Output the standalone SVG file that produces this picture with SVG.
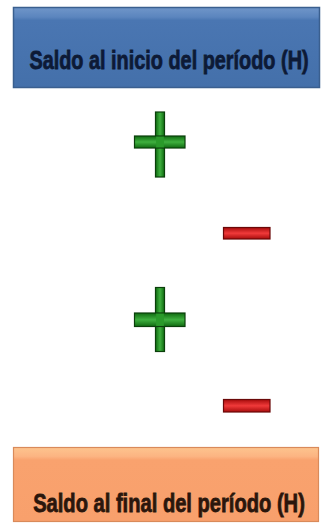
<svg xmlns="http://www.w3.org/2000/svg" width="323" height="523" viewBox="0 0 323 523">
<defs>
<linearGradient id="gBlue" x1="0" y1="0" x2="0" y2="1">
<stop offset="0" stop-color="#7096c9"/>
<stop offset="0.12" stop-color="#5b85be"/>
<stop offset="0.16" stop-color="#4a76b2"/>
<stop offset="1" stop-color="#4470aa"/>
</linearGradient>
<linearGradient id="gOrange" x1="0" y1="0" x2="0" y2="1">
<stop offset="0" stop-color="#fdc48e"/>
<stop offset="0.12" stop-color="#fcb482"/>
<stop offset="0.17" stop-color="#f9a26e"/>
<stop offset="1" stop-color="#f8a06c"/>
</linearGradient>
<linearGradient id="gGreenH" x1="0" y1="0" x2="0" y2="1">
<stop offset="0" stop-color="#0f6a10"/>
<stop offset="0.5" stop-color="#3fb03f"/>
<stop offset="1" stop-color="#0f6a10"/>
</linearGradient>
<linearGradient id="gGreenV" x1="0" y1="0" x2="1" y2="0">
<stop offset="0" stop-color="#0f6a10"/>
<stop offset="0.5" stop-color="#3fb03f"/>
<stop offset="1" stop-color="#0f6a10"/>
</linearGradient>
<linearGradient id="gRed" x1="0" y1="0" x2="0" y2="1">
<stop offset="0" stop-color="#a80c0c"/>
<stop offset="0.5" stop-color="#f03a3a"/>
<stop offset="1" stop-color="#a80c0c"/>
</linearGradient>
</defs>
<style>
.lbl{font-family:"Liberation Sans",Arial,sans-serif;font-weight:bold;font-size:26.5px;text-anchor:middle;stroke-width:0.8}
.plus{stroke:#0a3f0a;stroke-width:1.2}
.minus{stroke:#6a0808;stroke-width:1.2}
</style>
<g id="node-inicio">
<rect x="13.5" y="7.5" width="306" height="80" fill="url(#gBlue)" stroke="#3a5f8f" stroke-width="1.5"/>
<text class="lbl" transform="translate(169,69) scale(0.75,1)" x="0" y="0" fill="#0d1a36" stroke="#0d1a36">Saldo al inicio del período (H)</text>
</g>
<g id="node-plus1">
<rect class="plus" x="155.5" y="112" width="9" height="65" fill="url(#gGreenV)"/>
<rect class="plus" x="134.5" y="136" width="50.5" height="12" fill="url(#gGreenH)"/>
<rect x="156.1" y="136.6" width="7.8" height="10.8" fill="#2a9a2a"/>
</g>
<g id="node-minus1">
<rect class="minus" x="223.5" y="227.5" width="46.5" height="11.5" fill="url(#gRed)"/>
</g>
<g id="node-plus2">
<rect class="plus" x="155.5" y="287.5" width="9" height="64" fill="url(#gGreenV)"/>
<rect class="plus" x="134.5" y="313" width="50.5" height="13.5" fill="url(#gGreenH)"/>
<rect x="156.1" y="313.6" width="7.8" height="12.3" fill="#2a9a2a"/>
</g>
<g id="node-minus2">
<rect class="minus" x="223.5" y="399.5" width="46.5" height="12.5" fill="url(#gRed)"/>
</g>
<g id="node-final">
<rect x="13.5" y="447.5" width="305" height="74" fill="url(#gOrange)" stroke="#d98a5a" stroke-width="1.2"/>
<text class="lbl" transform="translate(169,511.5) scale(0.76,1)" x="0" y="0" fill="#2a160c" stroke="#2a160c">Saldo al final del período (H)</text>
</g>
<g id="connectors"/>
</svg>
